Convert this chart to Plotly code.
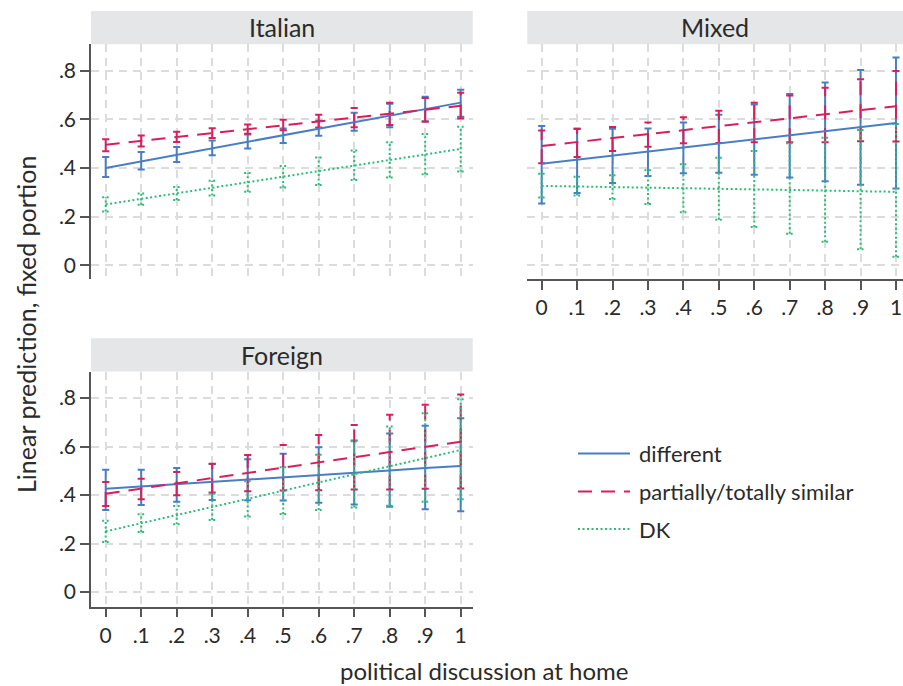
import plotly.graph_objects as go

W, H = 903, 686

# ---- data -------------------------------------------------------------
discussion = [0, .1, .2, .3, .4, .5, .6, .7, .8, .9, 1]
x_tick_labels = ["0", ".1", ".2", ".3", ".4", ".5", ".6", ".7", ".8", ".9", "1"]
y_tick_values = [0, .2, .4, .6, .8]
y_tick_labels = ["0", ".2", ".4", ".6", ".8"]

groups = ["different", "partially/totally similar", "DK"]
panels = ["Italian", "Mixed", "Foreign"]

# Italian
italian_different = [0.400, 0.427, 0.454, 0.481, 0.508, 0.535, 0.561, 0.588, 0.615, 0.641, 0.668]
italian_different_lo = [0.363, 0.393, 0.424, 0.452, 0.480, 0.502, 0.532, 0.553, 0.567, 0.592, 0.610]
italian_different_hi = [0.445, 0.465, 0.486, 0.513, 0.537, 0.562, 0.594, 0.627, 0.663, 0.692, 0.721]
italian_similar = [0.495, 0.511, 0.527, 0.543, 0.559, 0.575, 0.591, 0.607, 0.623, 0.639, 0.655]
italian_similar_lo = [0.468, 0.488, 0.506, 0.523, 0.540, 0.555, 0.566, 0.567, 0.576, 0.590, 0.603]
italian_similar_hi = [0.518, 0.533, 0.548, 0.563, 0.578, 0.598, 0.618, 0.646, 0.668, 0.687, 0.709]
italian_dk = [0.250, 0.273, 0.296, 0.318, 0.341, 0.364, 0.387, 0.410, 0.432, 0.455, 0.478]
italian_dk_lo = [0.221, 0.249, 0.268, 0.287, 0.302, 0.319, 0.330, 0.350, 0.361, 0.374, 0.385]
italian_dk_hi = [0.279, 0.295, 0.322, 0.347, 0.379, 0.408, 0.443, 0.471, 0.505, 0.539, 0.569]

# Mixed
mixed_different = [0.417, 0.434, 0.450, 0.467, 0.484, 0.500, 0.517, 0.534, 0.550, 0.567, 0.584]
mixed_different_lo = [0.254, 0.297, 0.338, 0.367, 0.378, 0.380, 0.372, 0.361, 0.345, 0.331, 0.315]
mixed_different_hi = [0.572, 0.562, 0.561, 0.562, 0.586, 0.618, 0.660, 0.703, 0.751, 0.802, 0.853]
mixed_similar = [0.490, 0.506, 0.523, 0.539, 0.555, 0.572, 0.588, 0.604, 0.620, 0.637, 0.653]
mixed_similar_lo = [0.419, 0.445, 0.469, 0.487, 0.501, 0.502, 0.505, 0.505, 0.505, 0.509, 0.508]
mixed_similar_hi = [0.554, 0.560, 0.568, 0.586, 0.608, 0.635, 0.668, 0.697, 0.729, 0.764, 0.798]
mixed_dk = [0.326, 0.324, 0.321, 0.319, 0.316, 0.314, 0.312, 0.309, 0.307, 0.304, 0.302]
mixed_dk_lo = [0.278, 0.287, 0.272, 0.252, 0.218, 0.187, 0.157, 0.130, 0.097, 0.066, 0.035]
mixed_dk_hi = [0.376, 0.364, 0.370, 0.390, 0.415, 0.442, 0.469, 0.501, 0.524, 0.556, 0.580]

# Foreign
foreign_different = [0.426, 0.435, 0.445, 0.454, 0.464, 0.473, 0.482, 0.492, 0.501, 0.511, 0.520]
foreign_different_lo = [0.338, 0.359, 0.372, 0.379, 0.378, 0.377, 0.368, 0.361, 0.352, 0.341, 0.333]
foreign_different_hi = [0.504, 0.504, 0.511, 0.528, 0.547, 0.570, 0.597, 0.625, 0.654, 0.686, 0.717]
foreign_similar = [0.405, 0.427, 0.448, 0.470, 0.491, 0.513, 0.534, 0.556, 0.577, 0.599, 0.620]
foreign_similar_lo = [0.355, 0.383, 0.399, 0.410, 0.415, 0.419, 0.420, 0.423, 0.423, 0.426, 0.427]
foreign_similar_hi = [0.454, 0.467, 0.495, 0.529, 0.565, 0.606, 0.647, 0.689, 0.731, 0.772, 0.814]
foreign_dk = [0.250, 0.284, 0.317, 0.351, 0.384, 0.418, 0.452, 0.485, 0.519, 0.552, 0.586]
foreign_dk_lo = [0.206, 0.247, 0.279, 0.297, 0.311, 0.322, 0.338, 0.348, 0.356, 0.372, 0.383]
foreign_dk_hi = [0.294, 0.321, 0.355, 0.405, 0.457, 0.514, 0.566, 0.622, 0.682, 0.737, 0.795]

series = {
    "Italian": [
        (italian_different, italian_different_lo, italian_different_hi),
        (italian_similar, italian_similar_lo, italian_similar_hi),
        (italian_dk, italian_dk_lo, italian_dk_hi),
    ],
    "Mixed": [
        (mixed_different, mixed_different_lo, mixed_different_hi),
        (mixed_similar, mixed_similar_lo, mixed_similar_hi),
        (mixed_dk, mixed_dk_lo, mixed_dk_hi),
    ],
    "Foreign": [
        (foreign_different, foreign_different_lo, foreign_different_hi),
        (foreign_similar, foreign_similar_lo, foreign_similar_hi),
        (foreign_dk, foreign_dk_lo, foreign_dk_hi),
    ],
}

# ---- styling ------------------------------------------------------------
FONT = "Lato"
TEXT = "#2b2b2b"
AXIS = "#555555"
GRID = "#dcdcdc"
STRIP = "#e5e6e8"
TICK_SIZE = 21
LABEL_SIZE = 22
TITLE_SIZE = 24
colors = ["#4a7ec4", "#d81f5c", "#2dbd78"]
dashes = ["solid", "14px,9px", "2px,2.5px"]
CAP = 0.010  # half width of the CI caps, in x units


def px_x(p):
    return p / W


def px_y(p):
    return 1 - p / H


# panel boxes in pixels: (left, right, top, bottom), plus axis ranges
boxes = {
    "Italian": dict(l=91, r=472.7, t=44.3, b=279.3, xr=[-0.0414, 1.0338], yr=[-0.0575, 0.9076],
                    xa="x", ya="y", xlab=False, ylab=True),
    "Mixed": dict(l=527.3, r=903, t=44.3, b=279.3, xr=[-0.0406, 1.0198], yr=[-0.0575, 0.9076],
                  xa="x2", ya="y2", xlab=True, ylab=False),
    "Foreign": dict(l=91, r=472.7, t=371.6, b=606.7, xr=[-0.0414, 1.0338], yr=[-0.0606, 0.9089],
                    xa="x3", ya="y3", xlab=True, ylab=True),
}

fig = go.Figure()

for name in panels:
    bx = boxes[name]
    # confidence intervals with caps
    for gi, (pred, lo, hi) in enumerate(series[name]):
        xs, ys = [], []
        for xv, l, h in zip(discussion, lo, hi):
            xs += [xv, xv, None, xv - CAP, xv + CAP, None, xv - CAP, xv + CAP, None]
            ys += [l, h, None, h, h, None, l, l, None]
        fig.add_trace(go.Scatter(
            x=xs, y=ys, mode="lines", xaxis=bx["xa"], yaxis=bx["ya"],
            line=dict(color=colors[gi], width=2, dash=dashes[gi]),
            showlegend=False, hoverinfo="skip"))
    # predicted lines
    for gi, (pred, lo, hi) in enumerate(series[name]):
        fig.add_trace(go.Scatter(
            x=discussion, y=pred, mode="lines", xaxis=bx["xa"], yaxis=bx["ya"],
            line=dict(color=colors[gi], width=2, dash=dashes[gi]),
            name=groups[gi], showlegend=False))

layout = dict(
    width=W, height=H, margin=dict(l=0, r=0, t=0, b=0), autosize=False,
    paper_bgcolor="white", plot_bgcolor="white",
    font=dict(family=FONT, color=TEXT, size=TICK_SIZE),
    shapes=[], annotations=[],
)

for name in panels:
    bx = boxes[name]
    xkey = "xaxis" + bx["xa"][1:]
    ykey = "yaxis" + bx["ya"][1:]
    layout[xkey] = dict(
        domain=[px_x(bx["l"]), px_x(bx["r"])], range=bx["xr"], anchor=bx["ya"],
        tickmode="array", tickvals=discussion, ticktext=x_tick_labels,
        showgrid=True, gridcolor=GRID, gridwidth=1.5, griddash="8px,6px", zeroline=False,
        showline=bx["xlab"], linecolor=AXIS, linewidth=1.5,
        ticks="outside" if bx["xlab"] else "", ticklen=9, tickwidth=1.5, tickcolor=AXIS,
        showticklabels=bx["xlab"], tickfont=dict(size=TICK_SIZE, color=TEXT, family=FONT),
        fixedrange=True)
    layout[ykey] = dict(
        domain=[px_y(bx["b"]), px_y(bx["t"])], range=bx["yr"], anchor=bx["xa"],
        tickmode="array", tickvals=y_tick_values, ticktext=y_tick_labels,
        showgrid=True, gridcolor=GRID, gridwidth=1.5, griddash="8px,6px", zeroline=False,
        showline=bx["ylab"], linecolor=AXIS, linewidth=1.5,
        ticks="outside" if bx["ylab"] else "", ticklen=9, tickwidth=1.5, tickcolor=AXIS,
        showticklabels=bx["ylab"], tickfont=dict(size=TICK_SIZE, color=TEXT, family=FONT),
        fixedrange=True)
    # title strip
    layout["shapes"].append(dict(
        type="rect", xref="paper", yref="paper",
        x0=px_x(bx["l"]), x1=px_x(bx["r"]), y0=px_y(bx["t"]), y1=px_y(bx["t"] - 33.3),
        fillcolor=STRIP, line=dict(width=0), layer="below"))
    layout["annotations"].append(dict(
        text=name, xref="paper", yref="paper", showarrow=False,
        x=px_x((bx["l"] + bx["r"]) / 2), y=px_y(bx["t"] - 17),
        xanchor="center", yanchor="middle", font=dict(size=25, color=TEXT, family=FONT)))

# axis titles
layout["annotations"].append(dict(
    text="Linear prediction, fixed portion", xref="paper", yref="paper", showarrow=False,
    x=px_x(26), y=px_y(325), textangle=-90, xanchor="center", yanchor="middle",
    font=dict(size=25, color=TEXT, family=FONT)))
layout["annotations"].append(dict(
    text="political discussion at home", xref="paper", yref="paper", showarrow=False,
    x=px_x(484), y=px_y(670), xanchor="center", yanchor="middle",
    font=dict(size=TITLE_SIZE, color=TEXT, family=FONT)))

# key
key_rows = [453.5, 491.5, 529]
for gi, g in enumerate(groups):
    layout["shapes"].append(dict(
        type="line", xref="paper", yref="paper",
        x0=px_x(578), x1=px_x(630), y0=px_y(key_rows[gi]), y1=px_y(key_rows[gi]),
        line=dict(color=colors[gi], width=2, dash=dashes[gi])))
    layout["annotations"].append(dict(
        text=g, xref="paper", yref="paper", showarrow=False,
        x=px_x(637), y=px_y(key_rows[gi]), xanchor="left", yanchor="middle",
        font=dict(size=LABEL_SIZE, color=TEXT, family=FONT)))

fig.update_layout(**layout)
fig.write_html("out.html")
